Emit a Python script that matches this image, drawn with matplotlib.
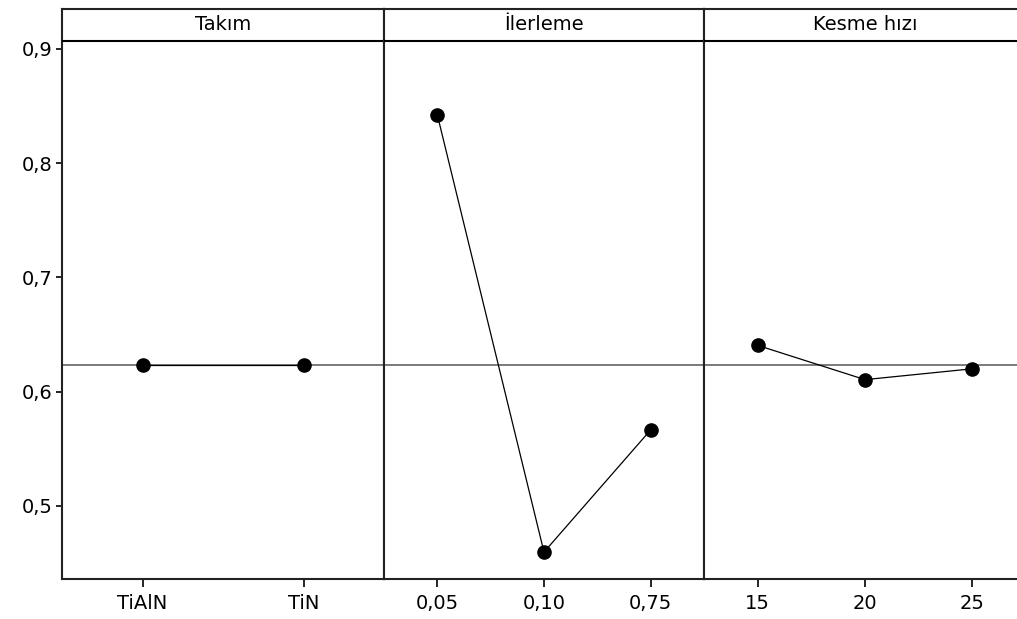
import matplotlib
matplotlib.use("Agg")
import matplotlib.pyplot as plt
from matplotlib.ticker import FuncFormatter

# Ana etkiler grafiği verileri
paneller = ["Takım", "İlerleme", "Kesme hızı"]
takim_seviye = ["TiAlN", "TiN"]
takim_ort = [0.623, 0.623]
ilerleme_seviye = ["0,05", "0,10", "0,75"]
ilerleme_ort = [0.8423, 0.4595, 0.5665]
kesme_seviye = ["15", "20", "25"]
kesme_ort = [0.6405, 0.6105, 0.620]
genel_ort = 0.623
y_ticks = [0.5, 0.6, 0.7, 0.8, 0.9]

seviyeler = [takim_seviye, ilerleme_seviye, kesme_seviye]
ortalamalar = [takim_ort, ilerleme_ort, kesme_ort]

plt.rcParams['font.family'] = ['DejaVu Sans']

W, H = 1017, 619
fig = plt.figure(figsize=(W / 100, H / 100), dpi=100)

ymin, ymax = 0.4364, 0.935
baslik_alt = 0.907
alt_px, ust_px = 578.5, 9
sol = [62, 384, 704]
gen = [322, 320, 322]
yazi = 14

for i in range(3):
    ax = fig.add_axes([sol[i] / W, (H - alt_px) / H, gen[i] / W, (alt_px - ust_px) / H])
    x = list(range(1, len(seviyeler[i]) + 1))
    ax.axhline(genel_ort, color='#707070', lw=1.3, zorder=1)
    ax.plot(x, ortalamalar[i], color='black', lw=0.9, marker='o',
            markersize=9.5, zorder=3)
    ax.set_xlim(0.5, len(x) + 0.5)
    ax.set_ylim(ymin, ymax)
    ax.set_xticks(x)
    ax.set_xticklabels(seviyeler[i], fontsize=yazi)
    ax.tick_params(axis='x', direction='out', length=6, width=1.2, pad=5)
    # panel başlığı
    ax.axhline(baslik_alt, color='black', lw=1.5, zorder=4)
    ax.text((len(x) + 1) / 2, (baslik_alt + ymax) / 2, paneller[i],
            fontsize=yazi, ha='center', va='center')
    for s in ax.spines.values():
        s.set_linewidth(1.5)
        s.set_color('#222222')
    if i == 0:
        ax.set_yticks(y_ticks)
        ax.yaxis.set_major_formatter(FuncFormatter(lambda v, p: f"{v:.1f}".replace('.', ',')))
        ax.tick_params(axis='y', direction='out', length=4, width=1.2, labelsize=yazi, pad=3)
    else:
        ax.set_yticks([])

fig.savefig("out.png", dpi=100)
